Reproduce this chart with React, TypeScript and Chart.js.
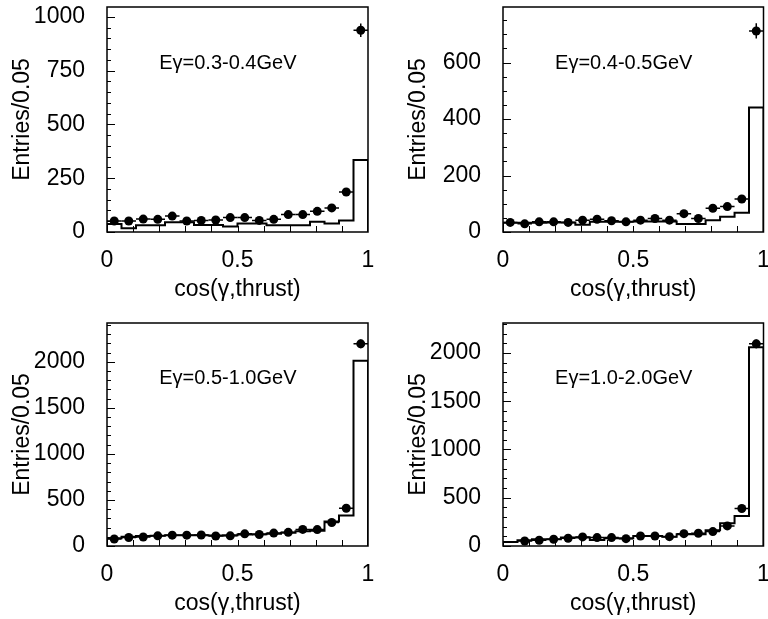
import React, { useEffect, useRef } from "react";
import { Chart, registerables } from "chart.js";

Chart.register(...registerables);

const FONT = '"Liberation Sans", Arial, Helvetica, sans-serif';

// ---------- data ----------
const nBins = 18;
const binEdges = Array.from({ length: nBins + 1 }, (_, i) => i / nBins);

const xTickValues = [0, 0.5, 1];
const xTickLabels = ["0", "0.5", "1"];
const xMinorTicks = [0.1, 0.2, 0.3, 0.4, 0.5, 0.6, 0.7, 0.8, 0.9];
const xTitle = "cos(\u03b3,thrust)";
const yTitle = "Entries/0.05";

const panelLabels = [
  "E\u03b3=0.3-0.4GeV",
  "E\u03b3=0.4-0.5GeV",
  "E\u03b3=0.5-1.0GeV",
  "E\u03b3=1.0-2.0GeV",
];

// panel 1: Eγ = 0.3-0.4 GeV
const data1 = [51, 51, 60, 59, 74, 51, 54, 56, 67, 67, 54, 59, 81, 81, 96, 112, 186, 938];
const err1 = [7, 7, 8, 8, 9, 7, 7, 7, 8, 8, 7, 8, 9, 9, 10, 11, 14, 31];
const hist1 = [37, 17, 31, 31, 45, 45, 33, 33, 25, 40, 40, 31, 31, 31, 48, 40, 53, 335];
const yTicks1 = [0, 250, 500, 750, 1000];
const yMax1 = 1046;
const yMinor1 = 50;

// panel 2: Eγ = 0.4-0.5 GeV
const data2 = [34, 29, 36, 36, 34, 42, 45, 40, 36, 42, 48, 42, 65, 48, 84, 90, 117, 712];
const err2 = [6, 5, 6, 6, 6, 6, 7, 6, 6, 6, 7, 6, 8, 7, 9, 9, 11, 27];
const hist2 = [33, 33, 33, 34, 34, 26, 36, 36, 36, 37, 37, 37, 28, 28, 42, 54, 68, 441];
const yTicks2 = [0, 200, 400, 600];
const yMax2 = 797;
const yMinor2 = 50;

// panel 3: Eγ = 0.5-1.0 GeV
const data3 = [76, 92, 98, 110, 118, 118, 120, 108, 110, 132, 125, 140, 148, 180, 178, 255, 410, 2195];
const err3 = [9, 10, 10, 10, 11, 11, 11, 10, 10, 11, 11, 12, 12, 13, 13, 16, 20, 47];
const hist3 = [85, 100, 108, 112, 116, 116, 118, 115, 116, 126, 128, 134, 145, 160, 166, 265, 330, 2010];
const yTicks3 = [0, 500, 1000, 1500, 2000];
const yMax3 = 2421;
const yMinor3 = 100;

// panel 4: Eγ = 1.0-2.0 GeV
const data4 = [null, 52, 59, 70, 80, 94, 87, 87, 76, 104, 104, 97, 128, 132, 149, 208, 389, 2094];
const err4 = [0, 7, 8, 8, 9, 10, 9, 9, 9, 10, 10, 10, 11, 11, 12, 14, 20, 46];
const hist4 = [42, 59, 70, 70, 87, 87, 62, 80, 80, 104, 104, 97, 122, 122, 163, 236, 312, 2060];
const yTicks4 = [0, 500, 1000, 1500, 2000];
const yMax4 = 2310;
const yMinor4 = 100;

// ---------- layout (pixel geometry of each panel) ----------
type Area = { left: number; right: number; top: number; bottom: number };
type PanelSpec = {
  label: string;
  data: (number | null)[];
  err: number[];
  hist: number[];
  yTicks: number[];
  yMax: number;
  yMinor: number;
  x: number;
  y: number;
  w: number;
  h: number;
  area: Area;
};

const panels: PanelSpec[] = [
  { label: panelLabels[0], data: data1, err: err1, hist: hist1, yTicks: yTicks1, yMax: yMax1, yMinor: yMinor1,
    x: 0, y: 0, w: 384, h: 310, area: { left: 107, right: 368, top: 7, bottom: 232 } },
  { label: panelLabels[1], data: data2, err: err2, hist: hist2, yTicks: yTicks2, yMax: yMax2, yMinor: yMinor2,
    x: 384, y: 0, w: 384, h: 310, area: { left: 119, right: 380, top: 7, bottom: 232 } },
  { label: panelLabels[2], data: data3, err: err3, hist: hist3, yTicks: yTicks3, yMax: yMax3, yMinor: yMinor3,
    x: 0, y: 310, w: 384, h: 309, area: { left: 107, right: 368, top: 13, bottom: 236 } },
  { label: panelLabels[3], data: data4, err: err4, hist: hist4, yTicks: yTicks4, yMax: yMax4, yMinor: yMinor4,
    x: 384, y: 310, w: 384, h: 309, area: { left: 119, right: 380, top: 13, bottom: 236 } },
];

function Panel({ spec }: { spec: PanelSpec }) {
  const ref = useRef<HTMLCanvasElement | null>(null);

  useEffect(() => {
    if (!ref.current) return;
    const { data, err, hist, yTicks, yMax, yMinor, area, w, h, label } = spec;

    const histPoints: { x: number; y: number }[] = [{ x: 0, y: 0 }];
    for (let i = 0; i < nBins; i++) histPoints.push({ x: binEdges[i], y: hist[i] });
    histPoints.push({ x: 1, y: hist[nBins - 1] });
    histPoints.push({ x: 1, y: 0 });

    const pts: { x: number; y: number; i: number }[] = [];
    data.forEach((v, i) => {
      if (v !== null && v !== undefined) pts.push({ x: (binEdges[i] + binEdges[i + 1]) / 2, y: v, i });
    });

    const decor = {
      id: "decor",
      beforeDatasetsDraw(chart: any) {
        const ctx = chart.ctx;
        const xs = chart.scales.x;
        const ys = chart.scales.y;
        ctx.save();
        ctx.strokeStyle = "#000";
        ctx.lineWidth = 1.5;
        pts.forEach((p) => {
          const py = ys.getPixelForValue(p.y);
          ctx.beginPath();
          ctx.moveTo(xs.getPixelForValue(binEdges[p.i]), py);
          ctx.lineTo(xs.getPixelForValue(binEdges[p.i + 1]), py);
          const e = err[p.i] || 0;
          const px = xs.getPixelForValue(p.x);
          ctx.moveTo(px, ys.getPixelForValue(p.y - e));
          ctx.lineTo(px, ys.getPixelForValue(p.y + e));
          ctx.stroke();
        });
        ctx.restore();
      },
      afterDraw(chart: any) {
        const ctx = chart.ctx;
        const ca = chart.chartArea;
        const xs = chart.scales.x;
        const ys = chart.scales.y;
        ctx.save();
        ctx.strokeStyle = "#000";
        ctx.lineWidth = 1.5;
        ctx.strokeRect(ca.left, ca.top, ca.right - ca.left, ca.bottom - ca.top);
        ctx.lineWidth = 1;
        ctx.beginPath();
        // y ticks (inside)
        for (let v = 0; v <= yMax; v += yMinor) {
          const py = Math.round(ys.getPixelForValue(v)) + 0.5;
          const major = yTicks.indexOf(v) >= 0;
          ctx.moveTo(ca.left, py);
          ctx.lineTo(ca.left + (major ? 8 : 4), py);
        }
        // x ticks (inside)
        xMinorTicks.forEach((v) => {
          const px = Math.round(xs.getPixelForValue(v)) + 0.5;
          ctx.moveTo(px, ca.bottom);
          ctx.lineTo(px, ca.bottom - 6);
        });
        ctx.stroke();

        ctx.fillStyle = "#000";
        // annotation
        ctx.font = `20px ${FONT}`;
        ctx.textAlign = "left";
        ctx.textBaseline = "middle";
        ctx.fillText(label, xs.getPixelForValue(0.2), ca.top + 0.25 * (ca.bottom - ca.top));
        // x title
        ctx.font = `23px ${FONT}`;
        ctx.textAlign = "center";
        ctx.fillText(xTitle, (ca.left + ca.right) / 2, ca.bottom + 58);
        // y title
        ctx.translate(ca.left - 84, (ca.top + ca.bottom) / 2);
        ctx.rotate(-Math.PI / 2);
        ctx.fillText(yTitle, 0, 0);
        ctx.restore();
      },
    };

    const chart = new Chart(ref.current, {
      type: "scatter",
      data: {
        datasets: [
          {
            type: "line",
            data: histPoints,
            stepped: "before",
            borderColor: "#000",
            borderWidth: 2,
            pointRadius: 0,
            fill: false,
            order: 2,
          } as any,
          {
            type: "scatter",
            data: pts.map((p) => ({ x: p.x, y: p.y })),
            pointRadius: 4.5,
            pointBackgroundColor: "#000",
            pointBorderColor: "#000",
            pointBorderWidth: 0,
            showLine: false,
            order: 1,
          } as any,
        ],
      },
      options: {
        animation: false,
        responsive: false,
        maintainAspectRatio: false,
        events: [],
        layout: { padding: { left: 0, top: area.top, right: w - area.right, bottom: 0 } },
        plugins: { legend: { display: false }, tooltip: { enabled: false }, title: { display: false } },
        scales: {
          x: {
            type: "linear",
            min: 0,
            max: 1,
            grid: { display: false },
            border: { display: false },
            afterBuildTicks: (s: any) => {
              s.ticks = xTickValues.map((v) => ({ value: v }));
            },
            afterFit: (s: any) => {
              s.height = h - area.bottom;
              s.paddingLeft = 0;
              s.paddingRight = 0;
            },
            ticks: {
              autoSkip: false,
              maxRotation: 0,
              padding: 7,
              color: "#000",
              font: { family: FONT, size: 23 },
              callback: (v: any) => {
                const k = xTickValues.indexOf(Number(v));
                return k >= 0 ? xTickLabels[k] : "";
              },
            },
          },
          y: {
            type: "linear",
            min: 0,
            max: yMax,
            grid: { display: false },
            border: { display: false },
            afterBuildTicks: (s: any) => {
              s.ticks = yTicks.map((v) => ({ value: v }));
            },
            afterFit: (s: any) => {
              s.width = area.left;
              s.paddingTop = 0;
              s.paddingBottom = 0;
            },
            ticks: {
              autoSkip: false,
              padding: 14,
              color: "#000",
              font: { family: FONT, size: 23 },
              callback: (v: any) => String(v),
            },
          },
        },
      },
      plugins: [decor],
    } as any);

    return () => chart.destroy();
  }, [spec]);

  return (
    <canvas
      ref={ref}
      width={spec.w}
      height={spec.h}
      style={{ position: "absolute", left: spec.x, top: spec.y, width: spec.w, height: spec.h }}
    />
  );
}

export default function App() {
  return (
    <div style={{ position: "fixed", left: 0, top: 0, width: 768, height: 619, background: "#fff" }}>
      {panels.map((p, i) => (
        <Panel key={i} spec={p} />
      ))}
    </div>
  );
}
